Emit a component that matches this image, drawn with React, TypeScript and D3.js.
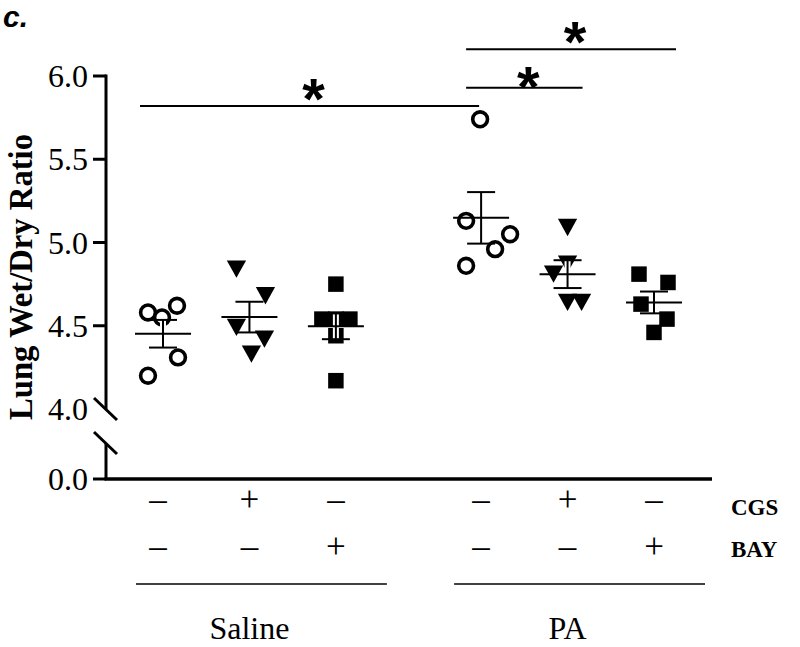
import * as React from "react";
import * as d3 from "d3";

// Lung wet/dry ratio, one array per treatment group
const salineVehicle = [4.58, 4.55, 4.62, 4.31, 4.2];
const salineCGS = [4.84, 4.68, 4.49, 4.42, 4.33];
const salineBAY = [4.75, 4.54, 4.54, 4.54, 4.44, 4.17];
const paVehicle = [5.74, 5.13, 5.05, 4.96, 4.86];
const paCGS = [5.09, 4.87, 4.81, 4.64, 4.64];
const paBAY = [4.81, 4.76, 4.63, 4.54, 4.46];

const groupNames = ["Saline", "PA"];
const cgsSigns = ["–", "+", "–", "–", "+", "–"];
const baySigns = ["–", "–", "+", "–", "–", "+"];
const rowLabels = ["CGS", "BAY"];
const upperTicks = [4.5, 5.0, 5.5, 6.0];
const breakTick = 4.0;
const lowerTick = 0.0;

// significance brackets: [from column, to column, bracket level]
const brackets: [number, number, number][] = [
  [0, 3, 5.82],
  [3, 4, 5.93],
  [3, 5, 6.16],
];

// layout only: horizontal scatter of points within a column (px)
const jitter = [
  [-15, -1, 14, 15, -15],
  [-13, 16, -13, 15, 2],
  [0, -14, 0, 14, 0, 0],
  [-1, -15, 29, 14, -15],
  [0, 0, -14, 0, 14],
  [-15, 14, -13, 13, 0],
];

const columns = [salineVehicle, salineCGS, salineBAY, paVehicle, paCGS, paBAY];
const shapes = ["circle", "triangle", "square", "circle", "triangle", "square"];

const serif = "'Liberation Serif', 'Times New Roman', serif";
const sans = "'Liberation Sans', Arial, sans-serif";

// down-pointing triangle centred on its bounding box
const triangleDown = {
  draw(ctx: any, size: number) {
    const w = Math.sqrt(size) * 1.5;
    const h = w * 0.9;
    ctx.moveTo(-w / 2, -h / 2);
    ctx.lineTo(w / 2, -h / 2);
    ctx.lineTo(0, h / 2);
    ctx.closePath();
  },
};

const Marker = ({ shape, x, y }: { shape: string; x: number; y: number }) => {
  if (shape === "circle") {
    const d = d3.symbol().type(d3.symbolCircle).size(Math.PI * 7.4 * 7.4)();
    return (
      <path d={d || ""} transform={`translate(${x},${y})`} fill="#fff" stroke="#000" strokeWidth={3.6} />
    );
  }
  if (shape === "square") {
    const d = d3.symbol().type(d3.symbolSquare).size(15.5 * 15.5)();
    return <path d={d || ""} transform={`translate(${x},${y})`} fill="#000" />;
  }
  const d = d3.symbol().type(triangleDown as any).size(165)();
  return <path d={d || ""} transform={`translate(${x},${y})`} fill="#000" />;
};

const App = () => {
  const width = 800;
  const height = 647;
  const axisX = 106;
  const axisEndX = 712;

  // column slot -> x; the PA group is shifted by an extra gap
  const slot = (i: number) => i + (i >= 3 ? 0.68 : 0);
  const x = d3.scaleLinear().domain([0, slot(5)]).range([163, 654]);
  const cx = (i: number) => x(slot(i));

  const y = d3.scaleLinear().domain([4, 6]).range([409, 76]);
  const yLow = d3.scaleLinear().domain([0, 4]).range([479, 443]);

  const stats = columns.map((vals) => {
    const m = d3.mean(vals) as number;
    const sem = (d3.deviation(vals) as number) / Math.sqrt(vals.length);
    return { m, sem };
  });

  const breakTop = y(breakTick);
  const breakBottom = yLow(4);

  return (
    <svg width={width} height={height} style={{ position: "absolute", left: 0, top: 0 }}>
      <rect width={width} height={height} fill="#fff" />
      <text x={3} y={27} fontFamily={sans} fontWeight="bold" fontStyle="italic" fontSize={30}>
        c.
      </text>

      {/* y axis label */}
      <text
        transform={`translate(32,277) rotate(-90)`}
        textAnchor="middle"
        fontFamily={serif}
        fontWeight="bold"
        fontSize={34}
        textLength={286}
        lengthAdjust="spacingAndGlyphs"
      >
        Lung Wet/Dry Ratio
      </text>

      {/* y axis, upper segment */}
      <line x1={axisX} x2={axisX} y1={y(6) - 1.5} y2={breakTop} stroke="#000" strokeWidth={3} />
      {upperTicks.map((t) => (
        <g key={t}>
          <line x1={axisX - 13} x2={axisX} y1={y(t)} y2={y(t)} stroke="#000" strokeWidth={3} />
          <text x={88} y={y(t) + 11} textAnchor="end" fontFamily={serif} fontSize={32}>
            {t.toFixed(1)}
          </text>
        </g>
      ))}
      <text x={88} y={y(breakTick) + 11} textAnchor="end" fontFamily={serif} fontSize={32}>
        {breakTick.toFixed(1)}
      </text>
      {/* break marks */}
      {[breakTop, breakBottom].map((by, i) => (
        <line key={i} x1={axisX - 12} y1={by - 11} x2={axisX + 11} y2={by + 11} stroke="#000" strokeWidth={3} />
      ))}
      {/* y axis, lower segment */}
      <line x1={axisX} x2={axisX} y1={breakBottom} y2={yLow(0)} stroke="#000" strokeWidth={3} />
      <line x1={axisX - 13} x2={axisX} y1={yLow(lowerTick)} y2={yLow(lowerTick)} stroke="#000" strokeWidth={3} />
      <text x={88} y={yLow(lowerTick) + 11} textAnchor="end" fontFamily={serif} fontSize={32}>
        {lowerTick.toFixed(1)}
      </text>
      {/* x axis */}
      <line x1={axisX - 1.5} x2={axisEndX} y1={yLow(0)} y2={yLow(0)} stroke="#000" strokeWidth={3.5} />

      {/* points */}
      {columns.map((vals, ci) =>
        vals.map((v, j) => <Marker key={`${ci}-${j}`} shape={shapes[ci]} x={cx(ci) + jitter[ci][j]} y={y(v)} />)
      )}

      {/* mean and SEM */}
      {stats.map((s, ci) => {
        const c = cx(ci);
        return (
          <g key={ci} stroke="#000" strokeWidth={2}>
            <line x1={c} x2={c} y1={y(s.m + s.sem)} y2={y(s.m - s.sem)} stroke="#fff" strokeWidth={6} />
            <line x1={c} x2={c} y1={y(s.m + s.sem)} y2={y(s.m - s.sem)} />
            <line x1={c - 28} x2={c + 28} y1={y(s.m)} y2={y(s.m)} />
            <line x1={c - 14} x2={c + 14} y1={y(s.m + s.sem)} y2={y(s.m + s.sem)} />
            <line x1={c - 14} x2={c + 14} y1={y(s.m - s.sem)} y2={y(s.m - s.sem)} />
          </g>
        );
      })}

      {/* significance brackets */}
      {brackets.map(([a, b, lvl], i) => {
        const x1 = cx(a) - (a === 0 ? 23 : 15);
        const x2 = cx(b) + (b === 3 ? -2 : b === 4 ? 15 : 22);
        const yy = y(lvl);
        const lift = b === 4 ? 11 : 17;
        return (
          <g key={i}>
            <line x1={x1} x2={x2} y1={yy} y2={yy} stroke="#000" strokeWidth={2} />
            <text
              x={(x1 + x2) / 2 + 4}
              y={yy - lift + 30}
              textAnchor="middle"
              fontFamily={sans}
              fontWeight="bold"
              fontSize={58}
            >
              *
            </text>
          </g>
        );
      })}

      {/* treatment table */}
      {cgsSigns.map((s, i) => (
        <text key={`c${i}`} x={cx(i) - (i === 0 ? 5 : 0)} y={511} textAnchor="middle" fontFamily={serif} fontSize={35}>
          {s}
        </text>
      ))}
      {baySigns.map((s, i) => (
        <text key={`b${i}`} x={cx(i) - (i === 0 ? 5 : 0)} y={558} textAnchor="middle" fontFamily={serif} fontSize={35}>
          {s}
        </text>
      ))}
      {rowLabels.map((r, i) => (
        <text key={r} x={731} y={515 + i * 42} fontFamily={serif} fontWeight="bold" fontSize={23}>
          {r}
        </text>
      ))}
      {groupNames.map((g, gi) => {
        const first = cx(gi * 3);
        const last = cx(gi * 3 + 2);
        const mid = cx(gi * 3 + 1);
        return (
          <g key={g}>
            <line x1={first - 27} x2={last + 51} y1={584} y2={584} stroke="#000" strokeWidth={1.5} />
            <text x={mid} y={639} textAnchor="middle" fontFamily={serif} fontSize={32}>
              {g}
            </text>
          </g>
        );
      })}
    </svg>
  );
};

export default App;
